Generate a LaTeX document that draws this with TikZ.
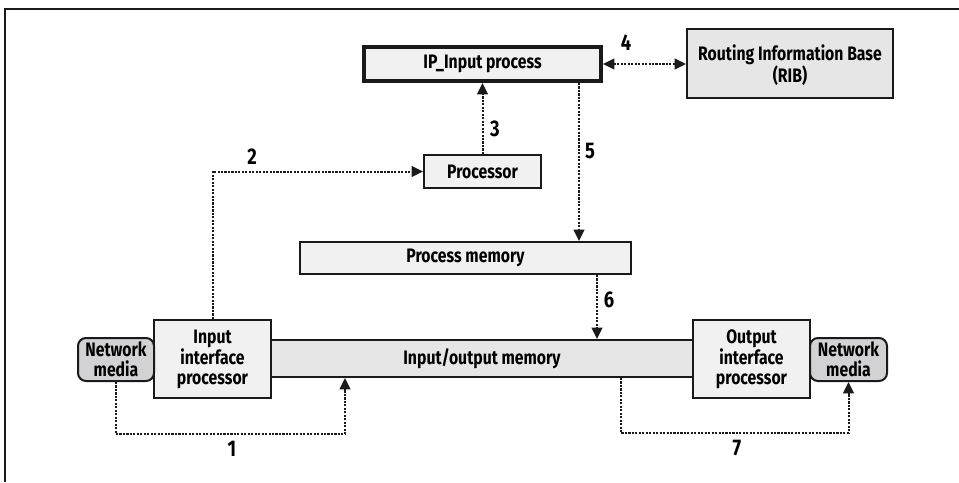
\documentclass[tikz,border=0pt]{standalone}
\usepackage{fontspec}
\setmainfont{Fira Sans}[FakeStretch=0.81]
\usetikzlibrary{arrows.meta,calc}
\definecolor{boxfill}{HTML}{F1F1F1}
\definecolor{ribfill}{HTML}{E6E6E6}
\definecolor{barfill}{HTML}{E6E6E7}
\definecolor{mediafill}{HTML}{D2D2D4}
\definecolor{edge}{HTML}{1A1A1A}
\tikzset{
  box/.style={draw=edge, fill=boxfill, line width=1.5pt, inner sep=0pt, align=center,
    font=\fontsize{14.6pt}{14.8pt}\selectfont\bfseries},
  media/.style={box, fill=mediafill, rounded corners=6pt},
  flow/.style={draw=edge, line width=1.5pt, dash pattern=on 1.6pt off 1.0pt,
    -{Triangle[length=8.5pt,width=8pt,sharp]}},
  biflow/.style={flow, {Triangle[length=8.5pt,width=8pt,sharp]}-{Triangle[length=8.5pt,width=8pt,sharp]}},
  num/.style={font=\fontsize{17pt}{19pt}\selectfont\bfseries, inner sep=0pt},
}
\begin{document}
\begin{tikzpicture}[x=0.75pt,y=-0.75pt]
\useasboundingbox (0,0) rectangle (959,482);
% frame
\draw[line width=1pt, draw=edge] (959,9) -- (5,9) -- (5,482);
% nodes
\node[box, line width=3pt, minimum width=237*0.75pt, minimum height=34*0.75pt] (ip) at (482.5,64) {IP\_Input process};
\node[box, fill=ribfill, minimum width=206*0.75pt, minimum height=69*0.75pt, text depth=0pt] (rib) at (790,63.5) {Routing Information Base\\(RIB)};
\node[box, minimum width=117*0.75pt, minimum height=33*0.75pt] (proc) at (482.5,171.5) {Processor};
\node[box, minimum width=331*0.75pt, minimum height=32*0.75pt] (pm) at (465.5,258) {Process memory};
\node[box, minimum width=117*0.75pt, minimum height=78*0.75pt] (inif) at (212.5,359) {Input\\interface\\processor};
\node[box, minimum width=117*0.75pt, minimum height=78*0.75pt] (outif) at (751.5,359) {Output\\interface\\processor};
\node[box, fill=barfill, minimum width=422*0.75pt, minimum height=37*0.75pt] (io) at (482,358.5) {Input/output memory};
\node[media, minimum width=76*0.75pt, minimum height=43*0.75pt] (nm1) at (116,359.5) {Network\\media};
\node[media, minimum width=77*0.75pt, minimum height=43*0.75pt] (nm2) at (848.5,359.5) {Network\\media};
% helper coordinates
\coordinate (c5) at (579,0);
\coordinate (c6) at (597,0);
\coordinate (c1) at (345,0);
\coordinate (c7) at (621,0);
\coordinate (b1) at (0,434);
\coordinate (b7) at (0,433);
% connectors
\draw[flow] (nm1.south) |- (b1 -| c1) -- (c1 |- io.south);
\draw[flow] (inif.north) |- (proc.west);
\draw[flow] (proc.north) -- (ip.south);
\draw[biflow] (ip.east) -- (rib.west |- ip.east);
\draw[flow] (ip.south -| c5) -- (c5 |- pm.north);
\draw[flow] (pm.south -| c6) -- (c6 |- io.north);
\draw[flow] (io.south -| c7) |- (b7 -| nm2.south) -- (nm2.south);
% labels
\node[num] (l1) at (232,449) {1};
\node[num] (l2) at (252,157) {2};
\node[num] (l3) at (495,129) {3};
\node[num] (l4) at (626,43) {4};
\node[num] (l5) at (590,151) {5};
\node[num] (l6) at (609,300) {6};
\node[num] (l7) at (737,448) {7};
\end{tikzpicture}
\end{document}
